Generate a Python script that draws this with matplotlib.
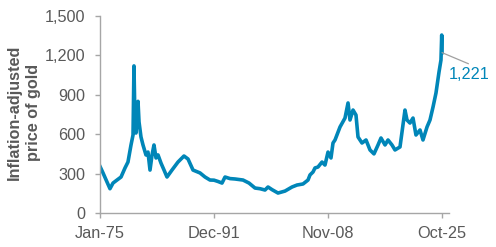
import matplotlib
matplotlib.use("Agg")
import matplotlib.pyplot as plt

# Decimal years and inflation-adjusted gold price
years = [1975.00, 1975.45, 1976.04, 1976.48, 1976.93, 1977.52, 1978.12, 1978.71,
         1979.15, 1979.60, 1979.90, 1980.04, 1980.19, 1980.34, 1980.64, 1980.79,
         1981.08, 1981.38, 1981.82, 1982.12, 1982.42, 1982.72, 1983.01, 1983.31,
         1983.61, 1984.05, 1984.50, 1984.94, 1985.68, 1986.57, 1987.46, 1988.06,
         1988.80, 1989.84, 1990.58, 1991.32, 1991.91, 1992.51, 1993.10, 1993.55,
         1994.29, 1995.03, 1996.22, 1997.11, 1998.00, 1998.74, 1999.48, 1999.93,
         2000.52, 2001.41, 2002.45, 2003.49, 2004.23, 2005.12, 2005.86, 2006.16,
         2006.60, 2006.90, 2007.34, 2007.94, 2008.38, 2008.83, 2009.27, 2009.57,
         2009.87, 2010.61, 2011.35, 2011.80, 2012.09, 2012.54, 2012.98, 2013.28,
         2013.87, 2014.47, 2015.06, 2015.65, 2016.25, 2016.69, 2017.29, 2017.73,
         2018.32, 2018.77, 2019.51, 2020.25, 2020.55, 2020.99, 2021.44, 2021.88,
         2022.48, 2022.92, 2023.52, 2023.96, 2024.41, 2024.85, 2025.30, 2025.59,
         2025.70, 2025.75]
values = [355, 305, 236, 185, 228, 251, 274, 343,
          388, 518, 594, 1120, 693, 609, 850, 693,
          579, 518, 442, 464, 327, 442, 518, 419,
          442, 380, 327, 274, 327, 388, 434, 411,
          327, 305, 274, 251, 250, 240, 228, 274,
          262, 259, 251, 228, 190, 185, 175, 198,
          178, 152, 167, 198, 213, 221, 251, 290,
          312, 343, 350, 388, 365, 464, 419, 533,
          556, 655, 723, 838, 708, 784, 746, 579,
          533, 556, 480, 450, 518, 571, 518, 556,
          518, 480, 503, 784, 708, 685, 723, 594,
          632, 556, 655, 708, 807, 914, 1074, 1165,
          1355, 1221]

x_tick_pos = [1975.00, 1991.92, 2008.83, 2025.75]
x_tick_labels = ["Jan-75", "Dec-91", "Nov-08", "Oct-25"]
y_ticks = [0, 300, 600, 900, 1200, 1500]
y_tick_labels = ["0", "300", "600", "900", "1,200", "1,500"]
last_label = "1,221"

LINE = "#0086b8"
GREY = "#595959"
AXC = "#a6a6a6"

plt.rcParams['font.family'] = ['Liberation Sans', 'DejaVu Sans']

fig = plt.figure(figsize=(4.96, 2.47), dpi=100)
ax = fig.add_axes([100/496, 34/247, 349/496, 197/247])
ax.plot(years, values, color=LINE, lw=2.6, solid_joinstyle='round')

ax.set_xlim(1975.0, 1975.0 + 349/6.74)
ax.set_ylim(0, 1500)
ax.set_xticks(x_tick_pos)
ax.set_xticklabels(x_tick_labels)
ax.set_yticks(y_ticks)
ax.set_yticklabels(y_tick_labels)

for s in ['top', 'right']:
    ax.spines[s].set_visible(False)
for s in ['left', 'bottom']:
    ax.spines[s].set_color(AXC)
    ax.spines[s].set_linewidth(1.0)
ax.tick_params(axis='both', colors=AXC, labelcolor=GREY, labelsize=11.7,
               length=3.5, width=1.0)
ax.tick_params(axis='y', pad=7)
ax.tick_params(axis='x', pad=6)

fig.text(24/496, 1 - 112/247, "Inflation-adjusted\nprice of gold",
         fontsize=11.7, fontweight='bold', color=GREY, rotation=90,
         ha='center', va='center', linespacing=1.3, multialignment='center')

# leader line and end label
x_end, y_end = years[-1], values[-1]
ax.annotate(last_label, xy=(x_end, y_end), xycoords='data',
            xytext=(5, -10), textcoords='offset points',
            color=LINE, fontsize=11.7, ha='left', va='top',
            annotation_clip=False)
ax.annotate("", xy=(x_end, y_end), xycoords='data',
            xytext=(19, -8), textcoords='offset points',
            arrowprops=dict(arrowstyle='-', color='#a0a0a0', lw=0.9,
                            shrinkA=0, shrinkB=0),
            annotation_clip=False)

fig.savefig("out.png", dpi=100)
